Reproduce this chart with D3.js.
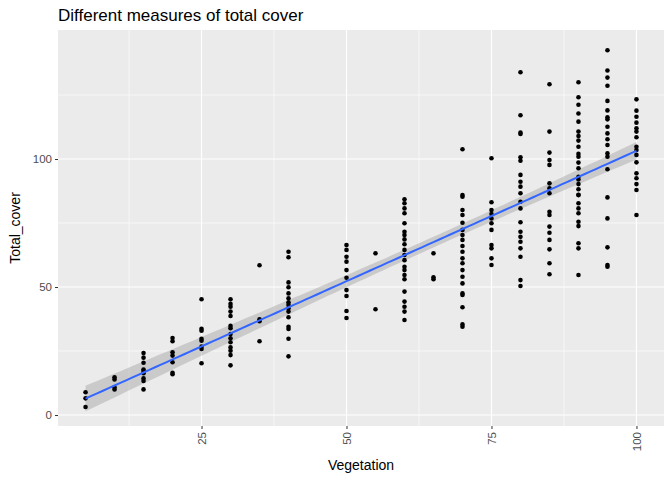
<!DOCTYPE html>
<html><head><meta charset="utf-8">
<script src="https://cdn.jsdelivr.net/npm/d3@7"></script>
<style>body{margin:0;background:#fff}</style></head>
<body><svg id="c" width="672" height="480"></svg>
<script>
const vegetation=[5,10,15,20,25,30,35,40,50,55,60,65,70,75,80,85,90,95,100];
const cover=[
[8.9,6.5,3.1],
[14.7,13.9,10.8,10.0],
[24.2,22.4,20.4,17.8,17.2,16.3,14.3,13.3,10.0],
[30.1,28.8,24.5,23.2,20.6,16.5,15.9],
[45.2,33.7,32.9,29.8,29.0,26.7,25.8,20.2],
[45.2,43.4,42.3,40.4,38.7,34.8,33.9,31.6,30.0,28.4,26.4,25.1,23.4,19.4],
[58.5,37.4,36.6,28.8],
[63.8,61.6,51.8,49.9,47.5,45.6,44,43,41.7,40.4,38.2,34.5,33.6,29.8,22.9],
[66.4,64.5,61.8,59.9,56.6,53.6,48.8,46.5,40.6,37.9],
[63.2,41.3],
[84.3,82.7,80.7,78.8,74.9,71.6,70.3,68.6,66.7,64.5,62.5,60.5,57.9,56.6,54.7,53.0,48.2,44.3,42.3,40.4,37.1],
[63.2,53.8,53.0],
[103.8,85.9,85.3,80.1,78.1,75.1,72.3,70.3,68.4,66.0,63.8,61.2,59.3,56.6,54.0,51.4,47.5,46.9,42.1,35.4,34.5],
[100.3,83.1,80.1,78.5,76.8,74.9,72.3,66.4,65.1,61.2,58.6],
[133.9,117.1,110.3,109.8,100.7,99.3,93.8,91.1,89.2,86.6,83.3,80.7,75.3,71.6,69.6,67.7,65.1,61.8,52.7,50.4],
[129.2,110.7,102.5,99.6,97.7,90.5,88.6,86.6,79.4,78.1,73.6,71.2,68.4,64.7,59.3,55.0],
[130,124.1,121.2,117.8,114.6,110.7,109,107.2,104.8,100.9,98.6,96.4,93.1,90.2,88.2,85.9,82.7,80.7,78.8,75.5,73.8,67.1,65.1,54.7,92,102,86],
[142.5,134.6,131.8,128.6,122.7,119,116.3,115.5,112.6,110,107.7,105.5,102.2,100.9,96,85,76.8,65.5,58.6,57.9],
[123.3,118.9,116.5,114.2,112,110.7,108.5,104.8,103.5,101.6,98.7,94.4,92.5,90.2,87.9,78.1]
];
const xTicks=[25,50,75,100], yTicks=[0,50,100];
const pts=[];vegetation.forEach((v,i)=>cover[i].forEach(c=>pts.push([v,c])));

const svg=d3.select("#c");
const L=58,R=664,T=30,B=426;
const x=d3.scaleLinear().domain([0.25,104.75]).range([L,R]);
const y=d3.scaleLinear().domain([-4.3,150.4]).range([B,T]);
svg.append("rect").attr("x",L).attr("y",T).attr("width",R-L).attr("height",B-T).attr("fill","#EBEBEB");
const g=svg.append("g");
[12.5,37.5,62.5,87.5].forEach(v=>g.append("line").attr("x1",x(v)).attr("x2",x(v)).attr("y1",T).attr("y2",B).attr("stroke","#fff").attr("stroke-width",0.6));
[25,75,125].forEach(v=>g.append("line").attr("y1",y(v)).attr("y2",y(v)).attr("x1",L).attr("x2",R).attr("stroke","#fff").attr("stroke-width",0.6));
xTicks.forEach(v=>g.append("line").attr("x1",x(v)).attr("x2",x(v)).attr("y1",T).attr("y2",B).attr("stroke","#fff").attr("stroke-width",1.2));
yTicks.forEach(v=>g.append("line").attr("y1",y(v)).attr("y2",y(v)).attr("x1",L).attr("x2",R).attr("stroke","#fff").attr("stroke-width",1.2));

// linear fit + 95% CI
const n=pts.length,mx=d3.mean(pts,d=>d[0]),my=d3.mean(pts,d=>d[1]);
const sxx=d3.sum(pts,d=>(d[0]-mx)**2),sxy=d3.sum(pts,d=>(d[0]-mx)*(d[1]-my));
const b=sxy/sxx,a=my-b*mx;
const s=Math.sqrt(d3.sum(pts,d=>(d[1]-a-b*d[0])**2)/(n-2));
const grid=d3.range(5,100.01,1);
const band=grid.map(v=>{const se=1.97*s*Math.sqrt(1/n+(v-mx)**2/sxx);return [v,a+b*v-se,a+b*v+se];});
svg.append("path").datum(band).attr("fill","#999").attr("opacity",0.4)
 .attr("d",d3.area().x(d=>x(d[0])).y0(d=>y(d[1])).y1(d=>y(d[2])));

svg.append("g").selectAll("circle").data(pts).join("circle")
 .attr("cx",d=>x(d[0])).attr("cy",d=>y(d[1])).attr("r",2.3).attr("fill","#000");
svg.append("path").datum(grid).attr("fill","none").attr("stroke","#3366FF").attr("stroke-width",2)
 .attr("d",d3.line().x(d=>x(d)).y(d=>y(a+b*d)));

const ax=svg.append("g").attr("transform",`translate(0,${B})`).call(d3.axisBottom(x).tickValues(xTicks).tickSize(3).tickPadding(4));
ax.select(".domain").remove();
ax.selectAll("line").attr("stroke","#333");
ax.selectAll("text").attr("transform","rotate(-90)").attr("text-anchor","end").attr("dy","0.35em").attr("x",-6).attr("y",0)
 .attr("fill","#4D4D4D").style("font","11.5px 'Liberation Sans',Arial,sans-serif");
const ay=svg.append("g").attr("transform",`translate(${L},0)`).call(d3.axisLeft(y).tickValues(yTicks).tickSize(3).tickPadding(3));
ay.select(".domain").remove();
ay.selectAll("line").attr("stroke","#333");
ay.selectAll("text").attr("fill","#4D4D4D").style("font","11.5px 'Liberation Sans',Arial,sans-serif");

svg.append("text").attr("x",(L+R)/2).attr("y",470).attr("text-anchor","middle").style("font","14px 'Liberation Sans',Arial,sans-serif").text("Vegetation");
svg.append("text").attr("transform",`translate(20,${(T+B)/2}) rotate(-90)`).attr("text-anchor","middle").style("font","14px 'Liberation Sans',Arial,sans-serif").text("Total_cover");
svg.append("text").attr("x",L).attr("y",21).style("font","17px 'Liberation Sans',Arial,sans-serif").text("Different measures of total cover");
</script></body></html>
